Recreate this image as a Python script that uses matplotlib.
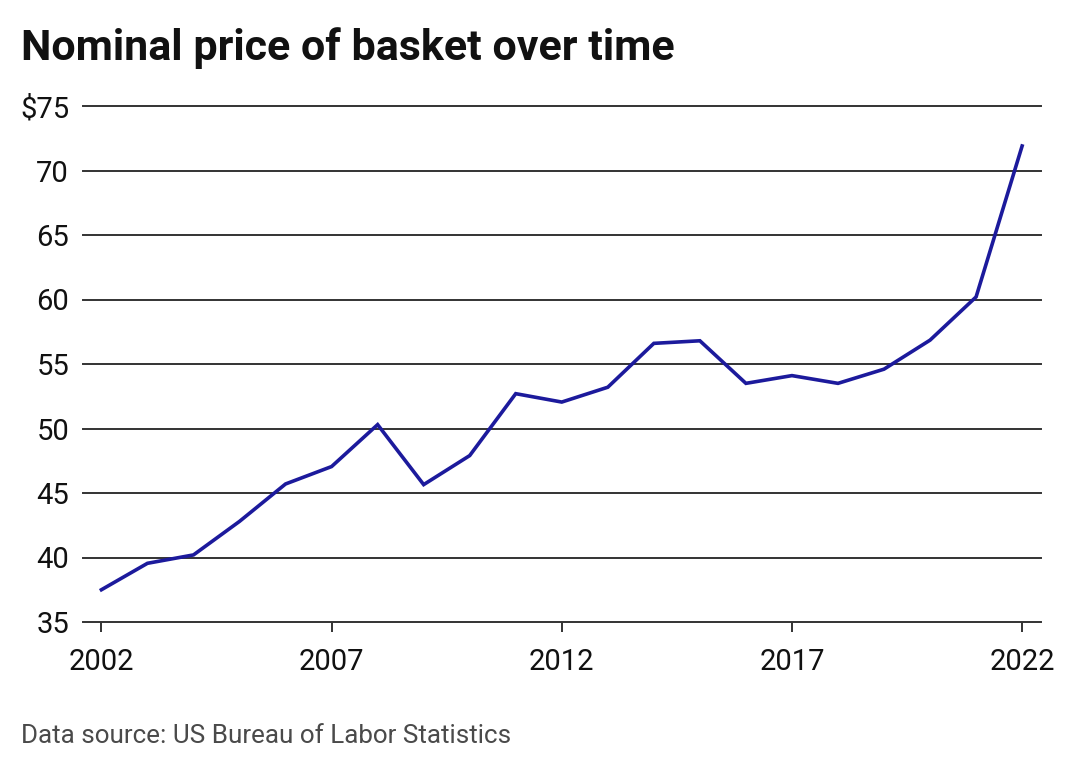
import matplotlib
matplotlib.use("Agg")
import matplotlib.pyplot as plt

years = list(range(2002, 2023))
price = [37.5, 39.55, 40.2, 42.8, 45.7, 47.05, 50.3, 45.65, 47.9, 52.7,
         52.05, 53.2, 56.6, 56.8, 53.5, 54.1, 53.5, 54.6, 56.85, 60.2, 71.9]

y_ticks = [35, 40, 45, 50, 55, 60, 65, 70, 75]
y_labels = ["35", "40", "45", "50", "55", "60", "65", "70", "$75"]
x_ticks = [2002, 2007, 2012, 2017, 2022]

title = "Nominal price of basket over time"
source = "Data source: US Bureau of Labor Statistics"

plt.rcParams["font.family"] = ["Roboto", "DejaVu Sans"]

W, H = 1080, 770
fig = plt.figure(figsize=(W / 100, H / 100), dpi=100)
ax = fig.add_axes([83 / W, 1 - 622 / H, (1041 - 83) / W, (622 - 106) / H])

ax.plot(years, price, color="#1c1a9c", lw=2.6, solid_joinstyle="miter", zorder=3)

ax.set_xlim(2001.6, 2022.41)
ax.set_ylim(35, 75)
ax.set_yticks(y_ticks)
ax.set_yticklabels(y_labels)
ax.set_xticks(x_ticks)
ax.set_xticklabels([str(x) for x in x_ticks])

# horizontal grid only
for y in y_ticks:
    ax.axhline(y, color="#333333", lw=1.4, zorder=1, clip_on=False)
for s in ax.spines.values():
    s.set_visible(False)

ax.tick_params(axis="y", length=0, pad=10, labelsize=21, labelcolor="#111111")
ax.tick_params(axis="x", length=7, width=1.4, color="#333333", pad=12,
               labelsize=21, labelcolor="#111111")

fig.text(21 / W, 1 - 60 / H, title, fontsize=31, fontweight="bold",
         color="#111111", ha="left", va="baseline")
fig.text(21 / W, 1 - 743 / H, source, fontsize=18.7, color="#4a4a4a",
         ha="left", va="baseline")

fig.savefig("out.png", dpi=100, facecolor="white")
